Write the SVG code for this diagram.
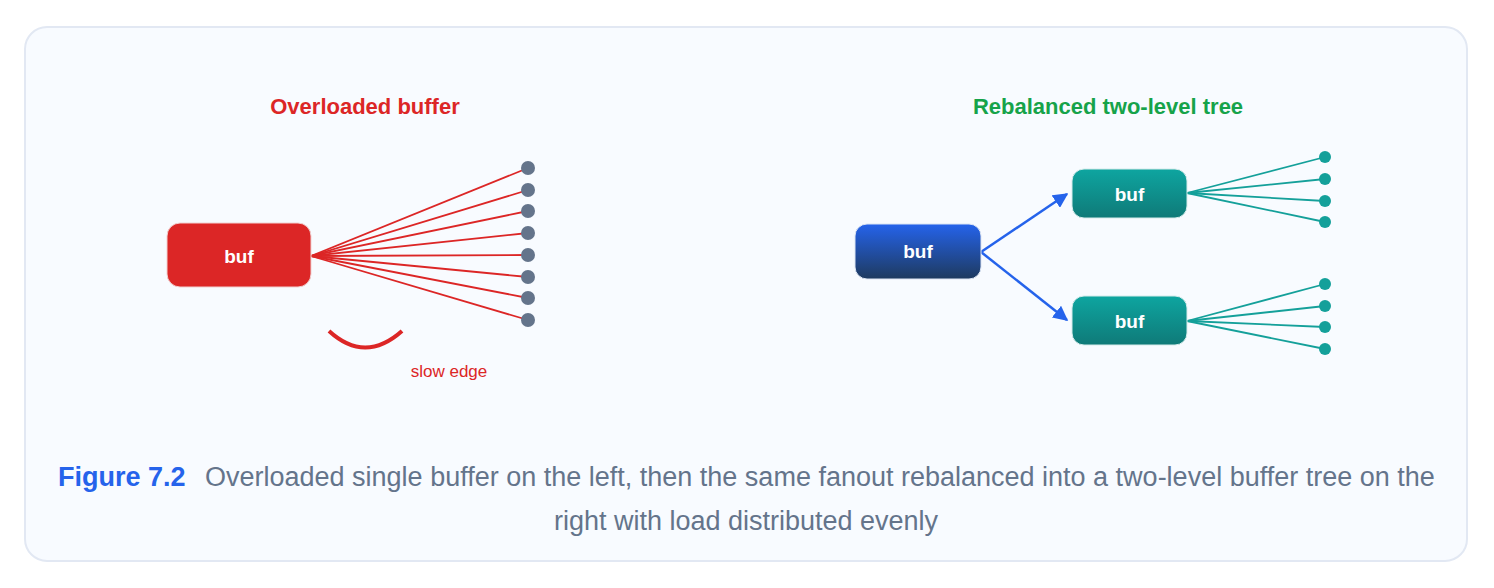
<svg xmlns="http://www.w3.org/2000/svg" width="1494" height="588" viewBox="0 0 1494 588">
<defs>
<linearGradient id="gBlue" x1="0" y1="0" x2="0" y2="1"><stop offset="0" stop-color="#2563eb"/><stop offset="1" stop-color="#1e3a5f"/></linearGradient>
<linearGradient id="gTeal" x1="0" y1="0" x2="0" y2="1"><stop offset="0" stop-color="#0ea5a0"/><stop offset="1" stop-color="#0f7a78"/></linearGradient>
<marker id="arr" viewBox="0 0 10 10" refX="9" refY="5" markerWidth="6" markerHeight="6" markerUnits="strokeWidth" orient="auto"><path d="M0,0 L10,5 L0,10 z" fill="#2563eb"/></marker>
<style>
.lbl{font-family:"Liberation Sans",Arial,sans-serif;font-weight:bold;fill:#fff;font-size:19px;text-anchor:middle}
.ttl{font-family:"Liberation Sans",Arial,sans-serif;font-weight:bold;font-size:22px;text-anchor:middle}
.red{stroke:#dc2626;stroke-width:1.8;fill:none}
.teal{stroke:#14a09a;stroke-width:1.8;fill:none}
.cap{font-family:"Liberation Sans",Arial,sans-serif;font-size:27px;fill:#64748b}
</style>
</defs>
<rect x="25" y="27" width="1442" height="534" rx="22" fill="#f8fbff" stroke="#e2e8f3" stroke-width="2"/>
<text class="ttl" x="365" y="114" fill="#dc2626">Overloaded buffer</text>
<text class="ttl" x="1108" y="114" fill="#16a34a">Rebalanced two-level tree</text>
<g id="connectors">
<g class="red">
<line x1="311" y1="256" x2="528" y2="168"/>
<line x1="311" y1="256" x2="528" y2="190"/>
<line x1="311" y1="256" x2="528" y2="211"/>
<line x1="311" y1="256" x2="528" y2="233"/>
<line x1="311" y1="256" x2="528" y2="255"/>
<line x1="311" y1="256" x2="528" y2="277"/>
<line x1="311" y1="256" x2="528" y2="298"/>
<line x1="311" y1="256" x2="528" y2="320"/>
</g>
<path d="M329,331 Q365,364 402,331" stroke="#dc2626" stroke-width="4" fill="none"/>
<line x1="981" y1="252" x2="1067" y2="194" stroke="#2563eb" stroke-width="2.5" marker-end="url(#arr)"/>
<line x1="981" y1="252" x2="1067" y2="320" stroke="#2563eb" stroke-width="2.5" marker-end="url(#arr)"/>
<g class="teal">
<line x1="1187" y1="193" x2="1325" y2="157"/>
<line x1="1187" y1="193" x2="1325" y2="179"/>
<line x1="1187" y1="193" x2="1325" y2="201"/>
<line x1="1187" y1="193" x2="1325" y2="222"/>
<line x1="1187" y1="321" x2="1325" y2="284"/>
<line x1="1187" y1="321" x2="1325" y2="306"/>
<line x1="1187" y1="321" x2="1325" y2="327"/>
<line x1="1187" y1="321" x2="1325" y2="349"/>
</g>
</g>
<g id="sinks-left" fill="#64748b">
<circle cx="528" cy="168" r="7"/><circle cx="528" cy="190" r="7"/><circle cx="528" cy="211" r="7"/><circle cx="528" cy="233" r="7"/>
<circle cx="528" cy="255" r="7"/><circle cx="528" cy="277" r="7"/><circle cx="528" cy="298" r="7"/><circle cx="528" cy="320" r="7"/>
</g>
<g id="sinks-right" fill="#14a09a">
<circle cx="1325" cy="157" r="6"/><circle cx="1325" cy="179" r="6"/><circle cx="1325" cy="201" r="6"/><circle cx="1325" cy="222" r="6"/>
<circle cx="1325" cy="284" r="6"/><circle cx="1325" cy="306" r="6"/><circle cx="1325" cy="327" r="6"/><circle cx="1325" cy="349" r="6"/>
</g>
<g id="node-overloaded">
<rect x="167" y="223" width="144" height="64" rx="13" fill="#dc2626" stroke="#f1d0d0" stroke-width="1"/>
<text class="lbl" x="239" y="263">buf</text>
</g>
<g id="node-root">
<rect x="855" y="224" width="126" height="55" rx="12" fill="url(#gBlue)" stroke="#dbe4f3" stroke-width="1"/>
<text class="lbl" x="918" y="258">buf</text>
</g>
<g id="node-top">
<rect x="1072" y="169" width="115" height="49" rx="12" fill="url(#gTeal)" stroke="#d5ebea" stroke-width="1"/>
<text class="lbl" x="1129.5" y="200.5">buf</text>
</g>
<g id="node-bottom">
<rect x="1072" y="296" width="115" height="49" rx="12" fill="url(#gTeal)" stroke="#d5ebea" stroke-width="1"/>
<text class="lbl" x="1129.5" y="327.5">buf</text>
</g>
<text x="449" y="377" font-family="Liberation Sans, Arial, sans-serif" font-size="17" fill="#dc2626" text-anchor="middle">slow edge</text>
<text class="cap" x="58" y="486"><tspan font-weight="bold" fill="#2563eb">Figure 7.2</tspan><tspan x="205">Overloaded single buffer on the left, then the same fanout rebalanced into a two-level buffer tree on the</tspan></text>
<text class="cap" x="746" y="530" text-anchor="middle">right with load distributed evenly</text>
</svg>
